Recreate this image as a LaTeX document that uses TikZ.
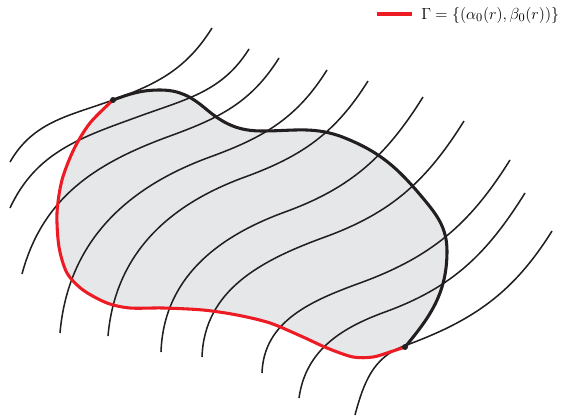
\documentclass[tikz,border=0pt]{standalone}
\usepackage{amsmath}

\definecolor{regionfill}{RGB}{230,231,233}
\definecolor{gammared}{RGB}{237,28,36}
\definecolor{bdryblack}{RGB}{35,31,32}

\tikzset{
  charline/.style={bdryblack, line width=1.15pt},
  bdry/.style={bdryblack, line width=2.3pt},
  gammaline/.style={gammared, line width=2.3pt},
  marker/.style={fill=bdryblack}
}

\begin{document}
\begin{tikzpicture}[x=0.75pt, y=0.75pt, line join=round]
	\useasboundingbox (0,0) rectangle (569,419);
	% 1. end points of the red part of the boundary
	\coordinate (P) at (113,319);
	\coordinate (Q) at (405,72);
	
	% 2. region (red part P->Q, black part Q->P)
	\fill[regionfill] plot[smooth] coordinates {(113,319) (90,296) (74,270) (62,239) (57,206) (59,172) (67,146) (83,129) (107,116) (130,111) (163,111) (203,109) (237,104) (270,96) (303,82) (327,71) (353,62) (373,62) (390,67) (405,72)}
		to[out=50, in=-90] (447,168) to[out=90, in=-50] (422,222) to[out=130, in=-22] (345,281) to[out=158, in=0] (262,288)
		to[out=180, in=-40] (206,310) to[out=140, in=0] (160,329) to[out=180, in=20] (P) -- cycle;
	
	% 3. characteristic curves
	\foreach \sx/\sy/\sa/\mx/\my/\ex/\ey in {
		10/257/60/113/319/212/391,
		10/211/65/140/303/249/370,
		22/145/75/170/283/279/361,
		60/86/85/210/262/327/349,
		108/83/85/245/242/368/338,
		161/67/88/285/207/423/322,
		202/62/88/325/182/464/298,
		262/46/88/360/136/510/259,
		299/21/82/385/107/525/226,
		355/4/75/404/73/552/188}
	{
		\draw[charline] (\sx,\sy) to[out=\sa, in=200] (\mx,\my) to[out=20, in=238] (\ex,\ey);
	}
	
	% 4. boundary on top
	\draw[gammaline] plot[smooth] coordinates {(113,319) (90,296) (74,270) (62,239) (57,206) (59,172) (67,146) (83,129) (107,116) (130,111) (163,111) (203,109) (237,104) (270,96) (303,82) (327,71) (353,62) (373,62) (390,67) (405,72)};
	\draw[bdry] (Q) to[out=50, in=-90] (447,168) to[out=90, in=-50] (422,222) to[out=130, in=-22] (345,281) to[out=158, in=0] (262,288)
		to[out=180, in=-40] (206,310) to[out=140, in=0] (160,329) to[out=180, in=20] (P);
	\fill[marker] (P) circle (3);
	\fill[marker] (Q) circle (3);
	
	% 5. legend
	\coordinate (legA) at (377,405);
	\coordinate (legB) at (412,405);
	\draw[gammaline, line width=3pt] (legA) -- (legB);
	\node[right, inner sep=0pt, font=\fontsize{13}{15}\selectfont] (legtext) at (421,404) {$\Gamma=\{(\alpha_0(r),\beta_0(r))\}$};
\end{tikzpicture}
\end{document}
